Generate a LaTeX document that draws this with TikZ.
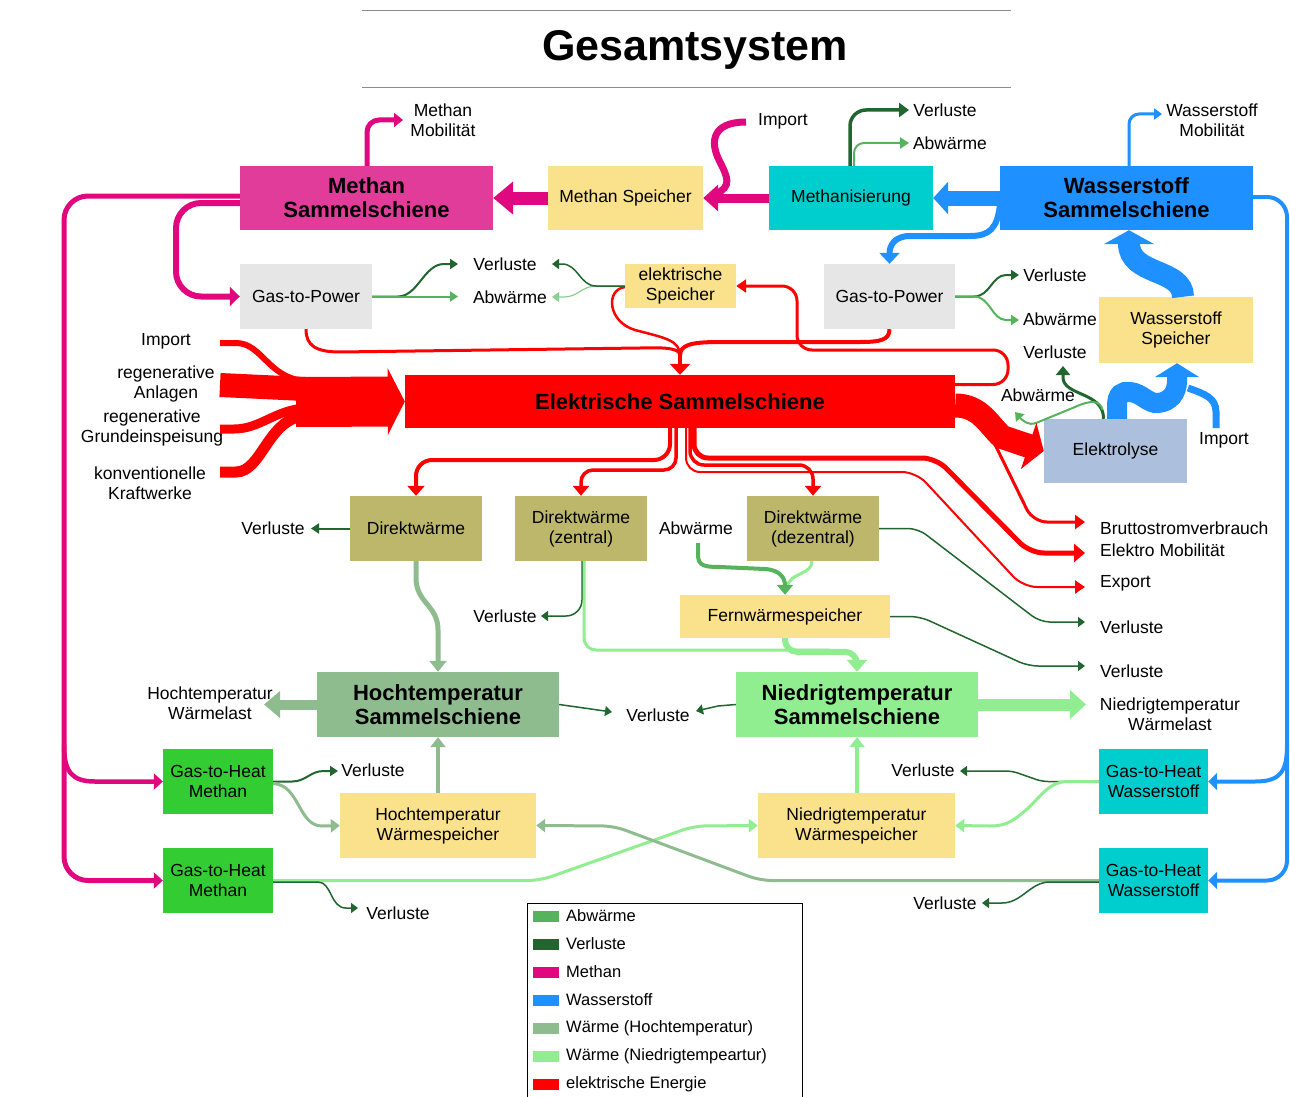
\documentclass[tikz,border=0pt]{standalone}
\usepackage{fontspec}
\setmainfont{Liberation Sans}
\usetikzlibrary{arrows.meta}
\definecolor{magbox}{HTML}{E23C9B}
\definecolor{magfl}{HTML}{E1077E}
\definecolor{gelb}{HTML}{FAE18C}
\definecolor{tuerkis}{HTML}{00CDCD}
\definecolor{blau}{HTML}{1E90FF}
\definecolor{grau}{HTML}{E6E6E6}
\definecolor{rot}{HTML}{FF0000}
\definecolor{stahl}{HTML}{ACBFDC}
\definecolor{khaki}{HTML}{BDB76B}
\definecolor{hochgr}{HTML}{8FBC8F}
\definecolor{niedgr}{HTML}{90EE90}
\definecolor{limegr}{HTML}{33CC33}
\definecolor{verlgr}{HTML}{21662F}
\definecolor{abwgr}{HTML}{55B35C}
\definecolor{abwhell}{HTML}{8CD08F}

\begin{document}
\begin{tikzpicture}[x=1pt,y=-1pt,
  bx/.style n args={3}{fill=#1, draw=none, minimum width=#2pt, minimum height=#3pt, inner sep=0pt, align=center},
  fnorm/.style={font=\fontsize{17.5}{20}\selectfont},
  fbold/.style={font=\fontsize{22}{24}\selectfont\bfseries},
  lbl/.style={inner sep=0pt, align=center, font=\fontsize{17.5}{20}\selectfont},
  hd/.style 2 args={-{Triangle[width=#1,length=#2]}},
  fl/.style 2 args={draw=#1, line width=#2},
]
\useasboundingbox[fill=white] (0,0) rectangle (1290,1097);

% title with rules
\node[font=\fontsize{43}{48}\selectfont\bfseries, inner sep=0pt] (titel) at (695,50) {Gesamtsystem};
\draw[black!45, line width=1pt] (362,11) -- (1011,11);
\draw[black!45, line width=1pt] (362,88) -- (1011,88);

% ---------- boxes ----------
\node[bx={magbox}{253}{64}, fbold] (msum) at (366.5,198) {Methan\\Sammelschiene};
\node[bx={gelb}{155}{64}, fnorm] (mspe) at (625.5,198) {Methan Speicher};
\node[bx={tuerkis}{164}{64}, fnorm] (mrz) at (851,198) {Methanisierung};
\node[bx={blau}{253}{64}, fbold] (wsum) at (1126.5,198) {Wasserstoff\\Sammelschiene};
\node[bx={grau}{132}{65}, fnorm] (g2pl) at (306,296.5) {Gas-to-Power};
\node[bx={gelb}{111}{44}, fnorm] (espe) at (680.5,286) {elektrische\\Speicher};
\node[bx={grau}{131}{65}, fnorm] (g2pr) at (889.5,296.5) {Gas-to-Power};
\node[bx={gelb}{154}{66}, fnorm] (wspe) at (1176,330) {Wasserstoff\\Speicher};
\node[bx={rot}{550}{53}, fbold] (esum) at (680,401.5) {Elektrische Sammelschiene};
\node[bx={stahl}{143}{64}, fnorm] (elys) at (1115.5,451) {Elektrolyse};
\node[bx={khaki}{132}{65}, fnorm] (dw) at (416,528.5) {Direktwärme};
\node[bx={khaki}{132}{65}, fnorm] (dwz) at (581,528.5) {Direktwärme\\(zentral)};
\node[bx={khaki}{132}{65}, fnorm] (dwd) at (813,528.5) {Direktwärme\\(dezentral)};
\node[bx={gelb}{210}{43}, fnorm] (fws) at (785,616.5) {Fernwärmespeicher};
\node[bx={hochgr}{242}{65}, fbold] (hts) at (438,704.5) {Hochtemperatur\\Sammelschiene};
\node[bx={niedgr}{242}{65}, fbold] (nts) at (857,704.5) {Niedrigtemperatur\\Sammelschiene};
\node[bx={limegr}{110}{65}, fnorm] (ghm1) at (218,781.5) {Gas-to-Heat\\Methan};
\node[bx={gelb}{196}{65}, fnorm] (htw) at (438,825.5) {Hochtemperatur\\Wärmespeicher};
\node[bx={gelb}{197}{65}, fnorm] (ntw) at (856.5,825.5) {Niedrigtemperatur\\Wärmespeicher};
\node[bx={tuerkis}{109}{65}, fnorm] (ghw1) at (1153.5,781.5) {Gas-to-Heat\\Wasserstoff};
\node[bx={limegr}{110}{65}, fnorm] (ghm2) at (218,880.5) {Gas-to-Heat\\Methan};
\node[bx={tuerkis}{109}{65}, fnorm] (ghw2) at (1153.5,880.5) {Gas-to-Heat\\Wasserstoff};

% ---------- free labels ----------
\node[lbl] (t_mmob) at (443,120) {Methan\\Mobilität};
\node[lbl] (t_mimp) at (783,121) {Import};
\node[lbl] (t_mrzv) at (945,110) {Verluste};
\node[lbl] (t_mrza) at (950,143) {Abwärme};
\node[lbl] (t_wmob) at (1212,120) {Wasserstoff\\Mobilität};
\node[lbl] (t_gv1) at (505,264) {Verluste};
\node[lbl] (t_ga1) at (510,297) {Abwärme};
\node[lbl] (t_rv) at (1055,275) {Verluste};
\node[lbl] (t_ra) at (1060,319) {Abwärme};
\node[lbl] (t_eimp) at (166,341) {Import};
\node[lbl] (t_reg) at (166,384) {regenerative\\Anlagen};
\node[lbl] (t_grd) at (152,428) {regenerative\\Grundeinspeisung};
\node[lbl] (t_kon) at (150,483) {konventionelle\\Kraftwerke};
\node[lbl] (t_lv) at (1055,352) {Verluste};
\node[lbl] (t_la) at (1038,395) {Abwärme};
\node[lbl] (t_himp) at (1224,440) {Import};
\node[lbl,anchor=west] (t_bsv) at (1100,528) {Bruttostromverbrauch};
\node[lbl,anchor=west] (t_emo) at (1100,550) {Elektro Mobilität};
\node[lbl,anchor=west] (t_exp) at (1100,583) {Export};
\node[lbl,anchor=west] (t_ddv) at (1100,627) {Verluste};
\node[lbl,anchor=west] (t_fwv) at (1100,671) {Verluste};
\node[lbl] (t_nwl) at (1170,714) {Niedrigtemperatur\\Wärmelast};
\node[lbl] (t_hwl) at (210,703) {Hochtemperatur\\Wärmelast};
\node[lbl] (t_dwv) at (273,528) {Verluste};
\node[lbl] (t_abw) at (696,528) {Abwärme};
\node[lbl] (t_dzv) at (505,616) {Verluste};
\node[lbl] (t_htv) at (658,715) {Verluste};
\node[lbl] (t_m1v) at (373,770) {Verluste};
\node[lbl] (t_w1v) at (923,770) {Verluste};
\node[lbl] (t_m2v) at (398,913) {Verluste};
\node[lbl] (t_w2v) at (945,903) {Verluste};

% ---------- connector ends ----------
\coordinate (e_mmob) at (403,120);
\coordinate (s_mimp) at (746,122);
\coordinate (e_mrzv) at (909,110);
\coordinate (e_mrza) at (909,143);
\coordinate (e_wmob) at (1162,114);
\coordinate (e_gv1) at (458,264);
\coordinate (e_ga1) at (458,296.5);
\coordinate (e_ev) at (552,264);
\coordinate (e_ea) at (552,297);
\coordinate (e_rv) at (1019,275);
\coordinate (e_ra) at (1019,320);
\coordinate (e_lv) at (1063,366);
\coordinate (e_la) at (1015,412);
\coordinate (s_himp) at (1216,428);
\coordinate (s_eimp) at (220,343);
\coordinate (s_reg) at (220,385);
\coordinate (s_grd) at (220,429);
\coordinate (s_kon) at (220,472);
\coordinate (m_top) at (680,356);
\coordinate (s_bsv) at (984,422);
\coordinate (e_bsv) at (1085,522);
\coordinate (e_emo) at (1085,553);
\coordinate (e_exp) at (1085,587);
\coordinate (e_dwv) at (311,528.5);
\coordinate (e_dzv) at (541,616);
\coordinate (s_abw) at (698,543);
\coordinate (e_ddv) at (1085,622);
\coordinate (e_fwv) at (1085,666);
\coordinate (e_hwl) at (264,704.5);
\coordinate (e_htv) at (612,712);
\coordinate (e_ntv) at (696,711);
\coordinate (e_nwl) at (1086,704.5);
\coordinate (e_m1v) at (338,771);
\coordinate (e_m2v) at (358,908);
\coordinate (e_w1v) at (960,771);
\coordinate (e_w2v) at (982,903);

% ---------- methane ----------
\draw[fl={magfl}{5pt}, hd={14pt}{9pt}, rounded corners=12pt] ([xshift=0.5pt]msum.north) |- (e_mmob);
\draw[fl={magfl}{13pt}, hd={32pt}{20pt}] (mspe.west) -- (msum.east);
\draw[fl={magfl}{7pt}] (s_mimp) .. controls (712,122) and (710,142) .. (719,160) .. controls (728,178) and (732,186) .. (716,194);
\draw[fl={magfl}{9pt}, hd={26pt}{15pt}] (mrz.west) -- (mspe.east);
\draw[fl={magfl}{5pt}, hd={16pt}{9pt}, rounded corners=24pt] ([yshift=2pt]msum.west) -| (64,880.5) -- (ghm2.west);
\draw[fl={magfl}{4.5pt}, hd={16pt}{9pt}] (64,745) .. controls (64,772) and (72,781.5) .. (95,781.5) -- (ghm1.west);
\draw[fl={magfl}{6pt}, hd={19pt}{10pt}, rounded corners=25pt] ([yshift=-5pt]msum.west) -| (176,296.5) -- (g2pl.west);

% ---------- hydrogen ----------
\draw[fl={blau}{3pt}, hd={11pt}{8pt}, rounded corners=10pt] ([xshift=2.5pt]wsum.north) |- (e_wmob);
\draw[fl={blau}{15pt}, hd={32pt}{15pt}] (wsum.west) -- (mrz.east);
\draw[fl={blau}{6pt}, hd={20pt}{11pt}] ([yshift=-8pt]wsum.west) .. controls (997,228) and (990,236) .. (970,236) -- (910,236) .. controls (895,236) and (889.5,245) .. (g2pr.north);
\draw[fl={blau}{4pt}, hd={17pt}{9pt}, rounded corners=20pt] ([yshift=1pt]wsum.east) -| (1287,880.5) -- (ghw2.east);
\draw[fl={blau}{4pt}, hd={17pt}{9pt}] (1287,745) .. controls (1287,772) and (1280,781.5) .. (1255,781.5) -- (ghw1.east);
\draw[fl={blau}{22pt}, hd={50pt}{14pt}] ([xshift=7pt]wspe.north) .. controls (1183,268) and (1129,276) .. ([xshift=2.5pt]wsum.south);

% ---------- electrolysis side streams ----------
\draw[fl={verlgr}{3pt}, hd={14pt}{9pt}] ([xshift=-12pt]elys.north) .. controls (1104,392) and (1064,396) .. (1063,378) -- (e_lv);
\draw[fl={abwgr}{2pt}, hd={11pt}{8pt}] ([shift={(-13pt,9pt)}]elys.north) .. controls (1100,400) and (1090,400) .. (1075,407) -- (1036,423) .. controls (1028,426) and (1022,420) .. (e_la);
\draw[fl={blau}{7pt}] (s_himp) -- (1216,412) .. controls (1216,398) and (1205,394) .. (1188,388);
\draw[fl={blau}{20pt}, hd={44pt}{14pt}] ([xshift=1.5pt]elys.north) -- (1117,406) .. controls (1117,394) and (1122,391) .. (1130,392) .. controls (1142,393) and (1148,404) .. (1158,403) .. controls (1170,402) and (1177,393) .. (1177,381) -- ([xshift=1pt]wspe.south);

% ---------- electricity in ----------
\draw[fl={rot}{6pt}] (s_eimp) -- (236,343) .. controls (262,343) and (268,378) .. (305,381);
\draw[fl={rot}{24pt}] (s_reg) -- (305,389);
\draw[fl={rot}{9pt}] (s_grd) -- (234,429) .. controls (260,429) and (275,410) .. (305,408);
\draw[fl={rot}{11pt}] (s_kon) -- (236,472) .. controls (262,472) and (268,418) .. (305,416);
\draw[fl={rot}{50pt}, hd={66pt}{17pt}] (296,402) -- (esum.west);

% ---------- electricity storage and gas-to-power ----------
\draw[fl={rot}{3pt}, hd={13pt}{10pt}, rounded corners=15pt] ([yshift=17pt]esum.east) -- (1008,384.5) -- (1008,350) -- (797,350) -- (797,286) -- (espe.east);
\draw[fl={rot}{3pt}] (g2pl.south) .. controls (306,345) and (315,352) .. (340,352) -- (640,348) .. controls (670,347) and (680,349) .. (m_top);
\draw[fl={rot}{2.5pt}] ([yshift=-1pt]espe.west) .. controls (605,290) and (608,322) .. (635,330) .. controls (665,338) and (680,340) .. (m_top);
\draw[fl={rot}{4pt}] (g2pr.south) .. controls (889.5,340) and (880,342) .. (860,342) -- (720,342) .. controls (690,342) and (680,345) .. (m_top);
\draw[fl={rot}{4pt}, hd={20pt}{11pt}] (m_top) -- (esum.north);

% ---------- electricity out ----------
\draw[fl={rot}{24pt}, hd={48pt}{16pt}] ([yshift=-4pt]esum.east) .. controls (980,405.5) and (988,424) .. (1002,437) -- (elys.west);
\draw[fl={rot}{3pt}, hd={14pt}{10pt}, rounded corners=14pt] (s_bsv) -- (1033,522) -- (e_bsv);
\draw[fl={rot}{5pt}, hd={18pt}{11pt}, rounded corners=14pt] ([xshift=14pt]esum.south) -- (694,458) -- (936,458) -- (1030,553) -- (e_emo);
\draw[fl={rot}{2pt}, hd={13pt}{10pt}, rounded corners=14pt] ([xshift=6pt]esum.south) -- (686,472) -- (916,472) -- (1023,587) -- (e_exp);
\draw[fl={rot}{3.5pt}, hd={16pt}{10pt}, rounded corners=14pt] ([xshift=10pt]esum.south) -- (690,465) -- (813,465) -- (dwd.north);
\draw[fl={rot}{4pt}, hd={17pt}{10pt}, rounded corners=16pt] ([xshift=-10pt]esum.south) -- (670,460) -- (416,460) -- (dw.north);
\draw[fl={rot}{3.5pt}, hd={16pt}{10pt}, rounded corners=12pt] ([xshift=-4pt]esum.south) -- (676,470) -- (581,470) -- (dwz.north);

% ---------- losses and waste heat, upper part ----------
\draw[fl={verlgr}{2pt}, hd={10pt}{8pt}] (g2pl.east) -- (398,296.5) .. controls (418,296.5) and (424,264) .. (444,264) -- (e_gv1);
\draw[fl={abwgr}{2pt}, hd={10pt}{8pt}] (g2pl.east) -- (e_ga1);
\draw[fl={abwhell}{1.2pt}, hd={10pt}{7pt}] (espe.west) -- (596,286) .. controls (582,286) and (578,297) .. (564,297) -- (e_ea);
\draw[fl={verlgr}{1.5pt}, hd={10pt}{7pt}] (espe.west) -- (596,286) .. controls (580,286) and (578,264) .. (562,264) -- (e_ev);
\draw[fl={verlgr}{2pt}, hd={10pt}{8pt}] (g2pr.east) -- (974,296.5) .. controls (990,296.5) and (992,275) .. (1006,275) -- (e_rv);
\draw[fl={abwgr}{2pt}, hd={10pt}{8pt}] (g2pr.east) -- (974,296.5) .. controls (990,296.5) and (992,320) .. (1006,320) -- (e_ra);
\draw[fl={verlgr}{3.5pt}, hd={14pt}{10pt}, rounded corners=16pt] ([xshift=-1pt]mrz.north) |- (e_mrzv);
\draw[fl={abwgr}{2pt}, hd={11pt}{9pt}, rounded corners=10pt] ([xshift=3pt]mrz.north) |- (e_mrza);

% ---------- heat ----------
\draw[fl={verlgr}{2pt}, hd={10pt}{8pt}] (dw.west) -- (e_dwv);
\draw[fl={verlgr}{1.5pt}, hd={10pt}{7pt}, rounded corners=16pt] ([xshift=1pt]dwz.south) |- (e_dzv);
\draw[fl={niedgr}{3pt}, rounded corners=12pt] ([xshift=3pt]dwz.south) |- (830,650);
\draw[fl={niedgr}{6pt}, hd={20pt}{12pt}, rounded corners=12pt] (fws.south) |- ([yshift=20pt]nts.north) -- (nts.north);
\draw[fl={niedgr}{3pt}] ([xshift=-1pt]dwd.south) .. controls (812,575) and (790,572) .. (787,587);
\draw[fl={abwgr}{4pt}, hd={16pt}{10pt}] (s_abw) -- (698,555) .. controls (698,566) and (705,567) .. (720,567) -- (765,569) .. controls (780,570) and (785,578) .. (fws.north);
\draw[fl={verlgr}{1.5pt}, hd={10pt}{7pt}, rounded corners=10pt] (dwd.east) -- (918,528.5) -- (1040,622) -- (e_ddv);
\draw[fl={verlgr}{1.5pt}, hd={10pt}{7pt}, rounded corners=10pt] (fws.east) -- (920,616.5) -- (1028,666) -- (e_fwv);
\draw[fl={hochgr}{5pt}, hd={17pt}{11pt}] (dw.south) -- (416,578) .. controls (416,603) and (438,605) .. (438,630) -- (hts.north);
\draw[fl={hochgr}{10pt}, hd={26pt}{16pt}] (hts.west) -- (e_hwl);
\draw[fl={verlgr}{1.5pt}, hd={10pt}{7pt}] (hts.east) -- (e_htv);
\draw[fl={verlgr}{1.5pt}, hd={10pt}{7pt}] (nts.west) -- (718,706) -- (e_ntv);
\draw[fl={niedgr}{12pt}, hd={28pt}{16pt}] (nts.east) -- (e_nwl);
\draw[fl={hochgr}{3.5pt}, hd={15pt}{10pt}] (htw.north) -- (hts.south);
\draw[fl={niedgr}{3.5pt}, hd={15pt}{10pt}] ([xshift=0.5pt]ntw.north) -- (nts.south);
\draw[fl={verlgr}{2pt}, hd={10pt}{8pt}] (ghm1.east) -- (292,781.5) .. controls (306,781.5) and (310,771) .. (324,771) -- (e_m1v);
\draw[fl={hochgr}{3pt}, hd={13pt}{9pt}] ([yshift=-2pt]ghm1.east) .. controls (300,785) and (298,826) .. (322,826) -- (htw.west);
\draw[fl={niedgr}{3pt}, hd={13pt}{9pt}, rounded corners=12pt] (ghm2.east) -- (540,880.5) -- (694,826) -- (ntw.west);
\draw[fl={verlgr}{1.5pt}, hd={10pt}{7pt}] ([yshift=-1.5pt]ghm2.east) -- (318,882) .. controls (332,882) and (330,908) .. (346,908) -- (e_m2v);
\draw[fl={verlgr}{1.5pt}, hd={10pt}{7pt}, rounded corners=6pt] (ghw1.west) -- (1042,781.5) -- (1012,771) -- (e_w1v);
\draw[fl={niedgr}{3pt}, hd={13pt}{9pt}] (ghw1.west) -- (1068,781.5) .. controls (1048,781.5) and (1040,798) .. (1026,810) .. controls (1012,822) and (1005,826) .. (990,826) -- (ntw.east);
\draw[fl={hochgr}{3pt}, hd={13pt}{9pt}, rounded corners=12pt] (ghw2.west) -- (760,880.5) -- (614,826) -- (htw.east);
\draw[fl={verlgr}{1.5pt}, hd={10pt}{7pt}] ([yshift=-1.5pt]ghw2.west) -- (1050,882) .. controls (1030,882) and (1022,903) .. (1002,903) -- (e_w2v);

% ---------- legend ----------
\node[draw=black, line width=1pt, minimum width=275pt, minimum height=200pt, anchor=north west, inner sep=0pt] (leg) at (527,903) {};
\foreach \i/\c/\t in {0/abwgr/Abwärme, 1/verlgr/Verluste, 2/magfl/Methan, 3/blau/Wasserstoff, 4/hochgr/Wärme (Hochtemperatur), 5/niedgr/Wärme (Niedrigtempeartur), 6/rot/elektrische Energie}{
  \node[fill=\c, minimum width=26pt, minimum height=11pt, inner sep=0pt] (sw\i) at (546,{916+28*\i}) {};
  \node[inner sep=0pt, anchor=west, font=\fontsize{16.5}{19}\selectfont] (lt\i) at (566,{916+28*\i}) {\t};
}
\end{tikzpicture}
\end{document}
